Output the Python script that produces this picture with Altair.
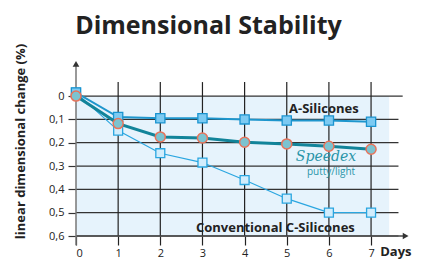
import altair as alt
import pandas as pd

days = [0, 1, 2, 3, 4, 5, 6, 7]
a_sil = [-0.015, 0.09, 0.095, 0.095, 0.1, 0.105, 0.105, 0.11]
speedex = [0.0, 0.118, 0.175, 0.18, 0.198, 0.205, 0.215, 0.228]
c_sil = [-0.015, 0.148, 0.245, 0.285, 0.36, 0.44, 0.5, 0.5]
y_ticks = [0, 0.1, 0.2, 0.3, 0.4, 0.5, 0.6]
x_ticks = days
title_text = "Dimensional Stability"

FONT = "Open Sans"
xs = alt.Scale(domain=[0, 7.9], nice=False, zero=False)
ys = alt.Scale(domain=[-0.159, 0.6], reverse=True, nice=False, zero=False)

XA = alt.Axis(
    values=x_ticks, format="d", title=None, grid=False, domain=False,
    tickSize=9, tickColor="#222", tickWidth=1.2, labelPadding=2,
    labelFont=FONT, labelFontSize=11, labelColor="#222")
YA = alt.Axis(
    values=y_ticks, title="linear dimensional change (%)", grid=False, domain=False,
    tickSize=8, tickColor="#333", tickWidth=1.2, labelPadding=4,
    labelExpr="datum.value == 0 ? '0' : replace(format(datum.value, '.1f'), '.', ',')",
    labelFont=FONT, labelFontSize=11, labelColor="#222",
    titleFont=FONT, titleFontSize=13, titleFontWeight="bold", titleColor="#222",
    titleX=-56, titleY=82, titleAngle=-90, titleAlign="center", titleBaseline="middle")


def X(f):
    return alt.X(f, scale=xs, axis=XA)


def Y(f):
    return alt.Y(f, scale=ys, axis=YA)


df = pd.DataFrame({"day": days, "a": a_sil, "s": speedex, "c": c_sil})

bg_df = pd.DataFrame({"x": [0], "x2": [7.43], "y": [0], "y2": [0.6]})
bg = alt.Chart(bg_df).mark_rect(color="#e6f3fc").encode(
    x=X("x:Q"), x2="x2:Q", y=Y("y:Q"), y2="y2:Q")

hg_df = pd.DataFrame({"y": y_ticks, "x": [0] * 7, "x2": [7.75] + [7.65] * 6})
hgrid = alt.Chart(hg_df).mark_rule(color="#333", strokeWidth=1.2).encode(
    x=X("x:Q"), x2="x2:Q", y=Y("y:Q"))

vg_df = pd.DataFrame({"x": days[1:], "y": [-0.06] * 7, "y2": [0.6] * 7})
vgrid = alt.Chart(vg_df).mark_rule(color="#222", strokeWidth=1.2).encode(
    x=X("x:Q"), y=Y("y:Q"), y2="y2:Q")

# axes with arrows
xa_df = pd.DataFrame({"x": [0], "x2": [7.8], "y": [0.6]})
xaxis = alt.Chart(xa_df).mark_rule(color="#444", strokeWidth=1.5).encode(
    x=X("x:Q"), x2="x2:Q", y=Y("y:Q"))
ya_df = pd.DataFrame({"x": [0], "y": [0.64], "y2": [-0.14]})
yaxis = alt.Chart(ya_df).mark_rule(color="#777", strokeWidth=1.5).encode(
    x=X("x:Q"), y=Y("y:Q"), y2="y2:Q")
xarrow = alt.Chart(pd.DataFrame({"x": [7.82], "y": [0.6]})).mark_point(
    shape="triangle-right", filled=True, color="#333", size=45, opacity=1).encode(
    x=X("x:Q"), y=Y("y:Q"))
yarrow = alt.Chart(pd.DataFrame({"x": [0], "y": [-0.138]})).mark_point(
    shape="triangle-up", filled=True, color="#333", size=45, opacity=1).encode(
    x=X("x:Q"), y=Y("y:Q"))

base = alt.Chart(df)

c_line = base.mark_line(color="#2aa6e0", strokeWidth=1.2).encode(x=X("day:Q"), y=Y("c:Q"))
c_pts = base.mark_point(shape="square", filled=True, fill="#d2edfc", stroke="#2aa6e0",
                        strokeWidth=1.3, size=80, opacity=1).encode(x=X("day:Q"), y=Y("c:Q"))
a_line = base.mark_line(color="#1e96cd", strokeWidth=2).encode(x=X("day:Q"), y=Y("a:Q"))
a_pts = base.mark_point(shape="square", filled=True, fill="#7ccaf2", stroke="#1a94d0",
                        strokeWidth=1.3, size=85, opacity=1).encode(x=X("day:Q"), y=Y("a:Q"))
s_line = base.mark_line(color="#12849a", strokeWidth=3).encode(x=X("day:Q"), y=Y("s:Q"))
s_pts = base.mark_circle(fill="#7cc3d0", stroke="#e8735a", strokeWidth=1.5,
                         size=100, opacity=1).encode(x=X("day:Q"), y=Y("s:Q"))

lab_df = pd.DataFrame({
    "x": [5.88, 4.73],
    "y": [0.056, 0.564],
    "t": ["A-Silicones", "Conventional C-Silicones"],
})
labels = alt.Chart(lab_df).mark_text(font=FONT, fontSize=13, fontWeight="bold",
                                     color="#222", baseline="middle").encode(
    x=X("x:Q"), y=Y("y:Q"), text="t:N")

sp_df = pd.DataFrame({"x": [5.93], "y": [0.262], "t": ["Speedex"]})
sp = alt.Chart(sp_df).mark_text(font="DejaVu Serif", fontSize=14, fontStyle="italic",
                                color="#2a95a8", baseline="middle").encode(
    x=X("x:Q"), y=Y("y:Q"), text="t:N")
pl_df = pd.DataFrame({"x": [6.05], "y": [0.325], "t": ["putty/light"]})
pl = alt.Chart(pl_df).mark_text(font=FONT, fontSize=10, color="#2a95a8",
                                baseline="middle").encode(
    x=X("x:Q"), y=Y("y:Q"), text="t:N")

days_df = pd.DataFrame({"x": [7.96], "y": [0.668], "t": ["Days"]})
days_lab = alt.Chart(days_df).mark_text(font=FONT, fontSize=13, fontWeight="bold",
                                        color="#222", baseline="middle", align="right").encode(
    x=X("x:Q"), y=Y("y:Q"), text="t:N")

ttl_df = pd.DataFrame({"x": [-0.02], "y": [-0.266], "t": [title_text]})
ttl = alt.Chart(ttl_df).mark_text(font=FONT, fontSize=25, fontWeight="bold",
                                  color="#222", baseline="alphabetic", align="left").encode(
    x=X("x:Q"), y=Y("y:Q"), text="t:N")

chart = alt.layer(
    bg, hgrid, vgrid, xaxis, yaxis, xarrow, yarrow,
    c_line, c_pts, a_line, a_pts, s_line, s_pts,
    labels, sp, pl, days_lab, ttl,
).properties(
    width=333, height=177,
    autosize=alt.AutoSizeParams(type="none"),
    padding={"left": 68, "top": 51, "right": 4, "bottom": 24},
).configure_view(stroke=None)

chart.save("out.html", embed_options={"renderer": "svg", "actions": False})
